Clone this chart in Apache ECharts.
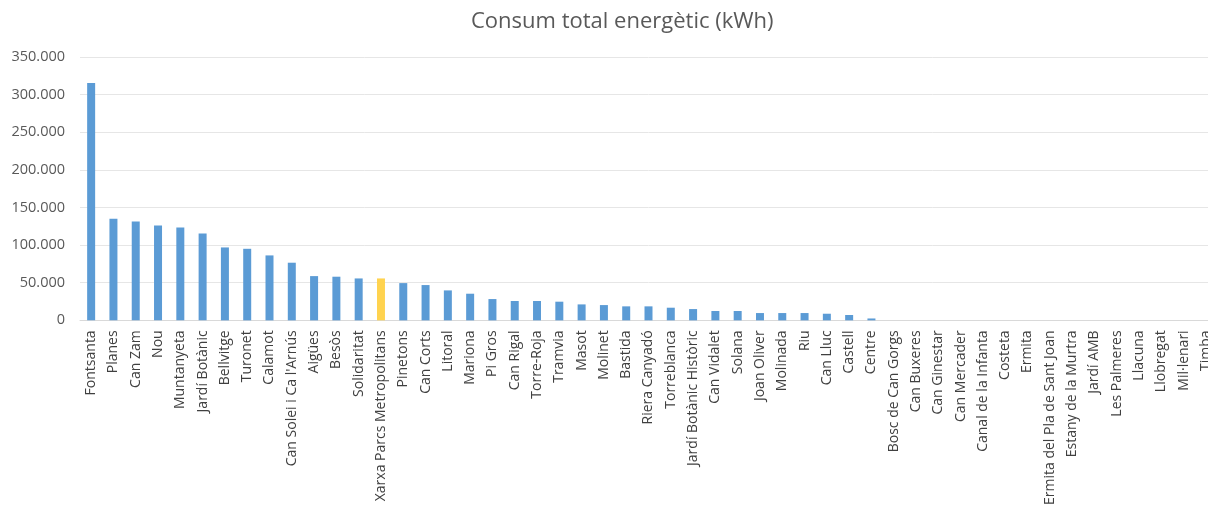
<!DOCTYPE html>
<html>
<head>
<meta charset="utf-8">
<script src="https://cdn.jsdelivr.net/npm/echarts@6/dist/echarts.min.js"></script>
<style>
  html, body { margin: 0; padding: 0; background: #fff; overflow: hidden; }
  #root1 { width: 1217px; height: 508px; }
</style>
</head>
<body>
<div id="root1"></div>
<script>
const categories = ['Fontsanta', 'Planes', 'Can Zam', 'Nou', 'Muntanyeta', 'Jardí Botànic', 'Bellvitge', 'Turonet', 'Calamot', "Can Solei i Ca l'Arnús", 'Aigües', 'Besòs', 'Solidaritat', 'Xarxa Parcs Metropolitans', 'Pinetons', 'Can Corts', 'Litoral', 'Mariona', 'Pi Gros', 'Can Rigal', 'Torre-Roja', 'Tramvia', 'Masot', 'Molinet', 'Bastida', 'Riera Canyadó', 'Torreblanca', 'Jardí Botànic Històric', 'Can Vidalet', 'Solana', 'Joan Oliver', 'Molinada', 'Riu', 'Can Lluc', 'Castell', 'Centre', 'Bosc de Can Gorgs', 'Can Buxeres', 'Can Ginestar', 'Can Mercader', 'Canal de la Infanta', 'Costeta', 'Ermita', 'Ermita del Pla de Sant Joan', 'Estany de la Murtra', 'Jardí AMB', 'Les Palmeres', 'Llacuna', 'Llobregat', 'Mil·lenari', 'Timba'];
const consum = [315500, 135000, 131400, 126100, 123400, 115500, 96900, 95100, 86300, 76600, 58800, 58000, 55700, 55700, 49500, 46900, 39800, 35400, 28300, 25700, 25700, 24800, 21200, 20300, 18600, 18600, 16800, 15000, 12400, 12400, 9700, 9700, 9700, 8800, 7100, 2500, 0, 0, 0, 0, 0, 0, 0, 0, 0, 0, 0, 0, 0, 0, 0];
const highlighted = 'Xarxa Parcs Metropolitans';

const chartDom = document.getElementById('root1');
const myChart = echarts.init(chartDom);

const option = {
  animation: false,
  title: {
    text: 'Consum total energètic (kWh)',
    left: 466,
    top: 6,
    textStyle: {
      fontFamily: 'Open Sans',
      fontSize: 22,
      fontWeight: 'normal',
      color: '#595959'
    }
  },
  grid: {
    left: 80,
    right: 0,
    top: 57,
    bottom: 187
  },
  xAxis: {
    type: 'category',
    data: categories,
    axisLine: { lineStyle: { color: '#d9d9d9' } },
    axisTick: { show: false },
    axisLabel: {
      interval: 0,
      rotate: 90,
      margin: 10,
      fontFamily: 'Open Sans',
      fontSize: 14,
      color: '#404040'
    }
  },
  yAxis: {
    type: 'value',
    min: 0,
    max: 350000,
    interval: 50000,
    axisLine: { show: false },
    axisTick: { show: false },
    splitLine: { lineStyle: { color: '#e6e6e6' } },
    axisLabel: {
      margin: 15,
      fontFamily: 'Open Sans',
      fontSize: 14.5,
      color: '#595959',
      formatter: v => v.toString().replace(/\B(?=(\d{3})+(?!\d))/g, '.')
    }
  },
  series: [
    {
      type: 'bar',
      barWidth: 8,
      data: consum.map((v, i) => ({
        value: v,
        itemStyle: { color: categories[i] === highlighted ? '#ffd34f' : '#5b9bd5' }
      }))
    }
  ]
};

myChart.setOption(option);
</script>
</body>
</html>
